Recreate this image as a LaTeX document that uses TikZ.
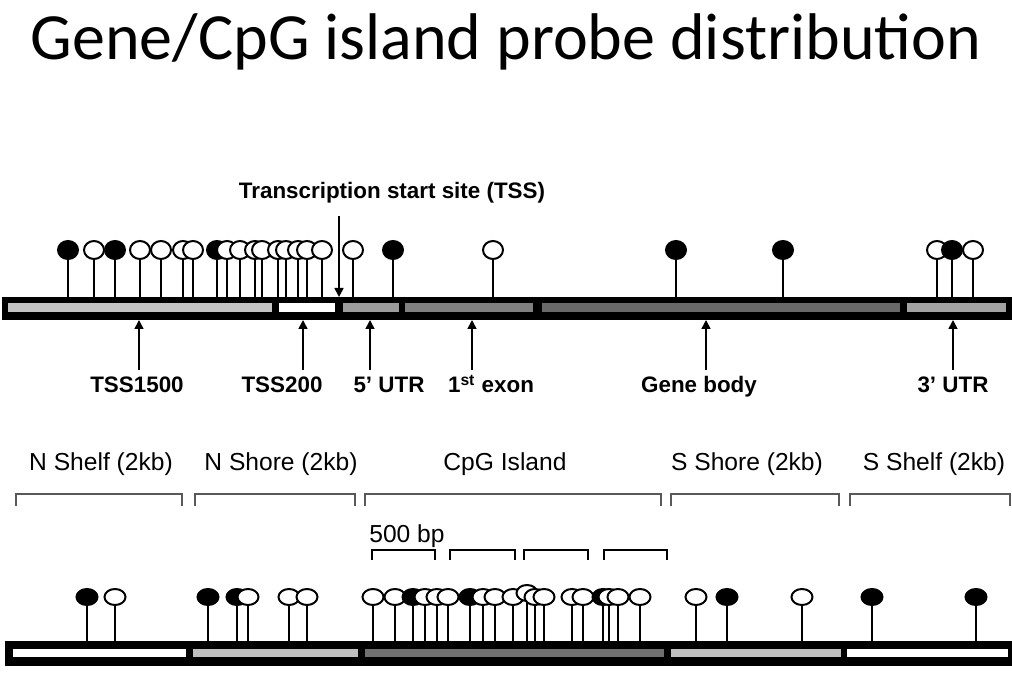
\documentclass[tikz,border=0pt]{standalone}
\usepackage{fontspec}
\setmainfont{Liberation Sans}
\newfontfamily\titlefont{Carlito}
\usetikzlibrary{arrows.meta}

\definecolor{tsslong}{gray}{0.77}
\definecolor{utrfive}{gray}{0.61}
\definecolor{exonone}{gray}{0.50}
\definecolor{genebody}{gray}{0.41}
\definecolor{utrthree}{gray}{0.64}
\definecolor{shoregray}{gray}{0.75}
\definecolor{islandgray}{gray}{0.44}
\definecolor{bracketgray}{gray}{0.35}

\begin{document}
\begin{tikzpicture}[x=0.5pt, y=-0.5pt,
    lbl/.style={font=\fontsize{11.2}{13}\selectfont\bfseries, text height=8pt, text depth=2pt, anchor=base},
    reg/.style={font=\fontsize{12.3}{14}\selectfont, anchor=base},
    arr/.style={-{Triangle[width=4.5pt, length=4.5pt]}, line width=0.8pt},
    stem/.style={line width=0.9pt},
    head/.style={draw=black, line width=1pt},
    brk/.style={draw=bracketgray, line width=0.6pt},
    bpbrk/.style={draw=black, line width=0.7pt}]

	\useasboundingbox (0,0) rectangle (1012,678);

	% title
	\node[font=\titlefont\fontsize{33}{38}\selectfont, anchor=base] (title) at (506,60) {Gene/CpG island probe distribution};

	% gene bar
	\fill (2,297) rectangle (1012,320);
	\foreach \a/\b/\c in {8/272/tsslong, 279/335/white, 343/399/utrfive, 405/533/exonone, 542/900/genebody, 907/1006/utrthree}
		\fill[\c] (\a,303) rectangle (\b,312);

	\def\geneprobes{68/black, 94/white, 115/black, 140/white, 161/white, 183/white, 193/white, 217/black, 227/white, 240/white, 255/white, 262/white, 278/white, 286/white, 298/white, 307/white, 322/white, 353/white, 393/black, 493/white, 676/black, 783/black, 937/white, 952/black, 973/white}
	\foreach \x/\c in \geneprobes
		\draw[stem] (\x,297) -- (\x,250);
	\foreach \x/\c in \geneprobes
		\filldraw[head, fill=\c] (\x,250) ellipse [x radius=10, y radius=9];

	% transcription start site
	\coordinate (tsspt) at (339,297);
	\node[lbl] (tss) at (392,199) {Transcription start site (TSS)};
	\draw[arr, shorten <=3pt] (tss.south -| tsspt) -- (tsspt);

	% gene regions
	\node[lbl] (l1500) at (137,393) {TSS1500};
	\node[lbl] (l200) at (282,393) {TSS200};
	\node[lbl] (lutrfive) at (389,393) {5’ UTR};
	\node[lbl] (lexon) at (491,393) {1\textsuperscript{st} exon};
	\node[lbl] (lbody) at (699,393) {Gene body};
	\node[lbl] (lutrthree) at (953,393) {3’ UTR};
	\foreach \n/\x in {l1500/139, l200/303, lutrfive/370, lexon/472, lbody/706, lutrthree/953}{
		\coordinate (p\n) at (\x,320);
		\draw[arr] (\n.north -| p\n) -- (p\n);
	}

	% CpG island regions
	\node[reg] (nshelf) at (101,471) {N Shelf (2kb)};
	\node[reg] (nshore) at (281,471) {N Shore (2kb)};
	\node[reg] (island) at (505,471) {CpG Island};
	\node[reg] (sshore) at (747,471) {S Shore (2kb)};
	\node[reg] (sshelf) at (934,471) {S Shelf (2kb)};
	\foreach \a/\b in {16/182, 195/355, 365/661, 671/839, 850/1010}
		\draw[brk] (\a,506) |- (\b,494) -- (\b,506);

	\node[reg] (bp) at (407,542) {500 bp};
	\foreach \a/\b in {372/435, 450/515, 524/588, 604/667}
		\draw[bpbrk] (\a,560) |- (\b,550) -- (\b,560);

	% island bar
	\fill (5,641) rectangle (1012,666);
	\foreach \a/\b/\c in {13/186/white, 193/358/shoregray, 365/664/islandgray, 671/841/shoregray, 847/1008/white}
		\fill[\c] (\a,649) rectangle (\b,657);

	\def\islandprobes{87/597/black, 115/597/white, 208/597/black, 237/597/black, 248/597/white, 289/597/white, 307/597/white, 373/597/white, 395/597/white, 413/597/black, 425/597/white, 437/597/white, 448/597/white, 470/597/black, 483/597/white, 495/597/white, 513/597/white, 527/593/white, 535/597/white, 544/597/white, 572/597/white, 583/597/white, 603/597/black, 609/597/white, 618/597/white, 640/597/white, 696/597/white, 727/597/black, 802/597/white, 872/597/black, 976/597/black}
	\foreach \x/\y/\c in \islandprobes
		\draw[stem] (\x,641) -- (\x,\y);
	\foreach \x/\y/\c in \islandprobes
		\filldraw[head, fill=\c] (\x,\y) ellipse [x radius=10.5, y radius=8];
\end{tikzpicture}
\end{document}
